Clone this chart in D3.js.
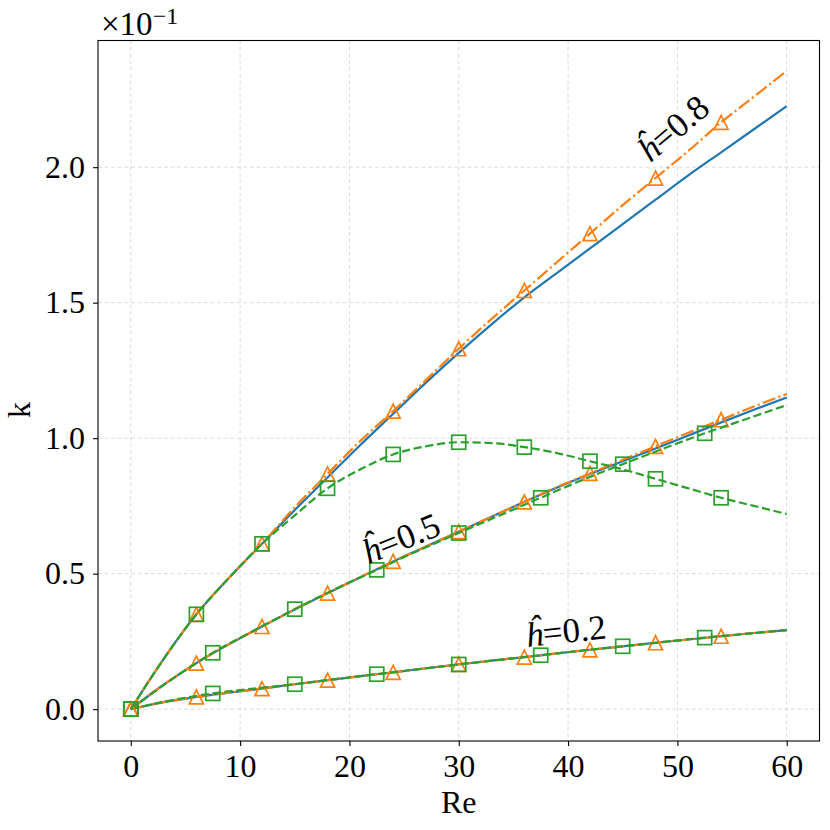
<!DOCTYPE html>
<html>
<head>
<meta charset="utf-8">
<script src="https://cdn.jsdelivr.net/npm/d3@7"></script>
<style>
    body { margin: 0; background: #ffffff; }
    text { font-family: "Liberation Serif", "DejaVu Serif", serif; fill: #000000; }
</style>
</head>
<body>
<svg id="chart"></svg>
<script>
// Re grids
const re3 = [0, 3, 6, 9, 12, 15, 18, 21, 24, 27, 30, 33, 36, 39, 42, 45, 48, 51, 54, 57, 60];
const re375 = [0, 3.75, 7.5, 11.25, 15, 18.75, 22.5, 26.25, 30, 33.75, 37.5, 41.25, 45, 48.75, 52.5, 56.25, 60];

// h = 0.8
const blue08   = [0, 0.185, 0.35, 0.485, 0.61, 0.735, 0.855, 0.975, 1.09, 1.205, 1.315, 1.42, 1.52, 1.61, 1.70, 1.79, 1.88, 1.97, 2.055, 2.14, 2.225];
const orange08 = [0, 0.185, 0.35, 0.485, 0.61, 0.745, 0.868, 0.99, 1.10, 1.215, 1.33, 1.44, 1.545, 1.65, 1.755, 1.86, 1.96, 2.06, 2.165, 2.26, 2.355];
const green08  = [0, 0.185, 0.35, 0.485, 0.61, 0.715, 0.815, 0.885, 0.94, 0.97, 0.985, 0.982, 0.967, 0.945, 0.915, 0.885, 0.85, 0.815, 0.78, 0.75, 0.72];

// h = 0.5
const blue05   = [0, 0.09, 0.17, 0.24, 0.305, 0.368, 0.428, 0.487, 0.545, 0.60, 0.655, 0.71, 0.765, 0.818, 0.868, 0.915, 0.962, 1.01, 1.058, 1.105, 1.15];
const orange05 = [0, 0.09, 0.17, 0.24, 0.305, 0.368, 0.428, 0.487, 0.545, 0.60, 0.655, 0.71, 0.765, 0.82, 0.87, 0.92, 0.97, 1.02, 1.068, 1.117, 1.163];
const green05  = [0, 0.11, 0.208, 0.29, 0.369, 0.444, 0.514, 0.584, 0.65, 0.715, 0.78, 0.845, 0.904, 0.962, 1.018, 1.07, 1.122];

// h = 0.2
const blue02   = [0, 0.026, 0.045, 0.061, 0.076, 0.092, 0.107, 0.122, 0.136, 0.151, 0.165, 0.179, 0.192, 0.206, 0.219, 0.232, 0.245, 0.257, 0.269, 0.281, 0.292];
const orange02 = [0, 0.026, 0.045, 0.061, 0.076, 0.092, 0.107, 0.122, 0.136, 0.151, 0.165, 0.179, 0.192, 0.206, 0.219, 0.232, 0.245, 0.257, 0.269, 0.281, 0.292];
const green02  = [0, 0.033, 0.058, 0.076, 0.092, 0.111, 0.129, 0.147, 0.165, 0.182, 0.199, 0.216, 0.232, 0.248, 0.264, 0.278, 0.292];

const xTicks = [0, 10, 20, 30, 40, 50, 60];
const yTicks = [0.0, 0.5, 1.0, 1.5, 2.0];

const labels = [
    { text: "0.8", re: 50.3, k: 2.11, angle: -40 },
    { text: "0.5", re: 25.1, k: 0.59, angle: -22 },
    { text: "0.2", re: 39.9, k: 0.245, angle: -6 }
];

const W = 830, H = 830;
const plot = { left: 98, right: 819.5, top: 40.5, bottom: 741 };

const svg = d3.select("#chart").attr("width", W).attr("height", H);

const x = d3.scaleLinear().domain([-3, 63]).range([plot.left, plot.right]);
const y = d3.scaleLinear().domain([-0.1175, 2.4675]).range([plot.bottom, plot.top]);

const lw = 2.2;

function zip(res, ks) {
    return res.map((r, i) => ({ re: r, k: ks[i] }));
}

function drawGrid() {
    const g = svg.append("g");
    g.selectAll(".gx").data(xTicks).join("line")
        .attr("x1", d => x(d)).attr("x2", d => x(d))
        .attr("y1", plot.top).attr("y2", plot.bottom)
        .attr("stroke", "#dcdcdc").attr("stroke-width", 1)
        .attr("stroke-dasharray", "4,2.6");
    g.selectAll(".gy").data(yTicks).join("line")
        .attr("y1", d => y(d)).attr("y2", d => y(d))
        .attr("x1", plot.left).attr("x2", plot.right)
        .attr("stroke", "#dcdcdc").attr("stroke-width", 1)
        .attr("stroke-dasharray", "4,2.6");
}

function drawAxes() {
    svg.append("g")
        .attr("transform", "translate(0," + plot.bottom + ")")
        .call(d3.axisBottom(x).tickValues(xTicks).tickSize(5).tickPadding(8)
            .tickFormat(d3.format("d")))
        .call(g => g.select(".domain").remove())
        .call(g => g.selectAll("text").attr("font-size", 32).attr("font-family", "Liberation Serif"))
        .call(g => g.selectAll(".tick line").attr("stroke-width", 1.1));

    svg.append("g")
        .attr("transform", "translate(" + plot.left + ",0)")
        .call(d3.axisLeft(y).tickValues(yTicks).tickSize(5).tickPadding(8)
            .tickFormat(d3.format(".1f")))
        .call(g => g.select(".domain").remove())
        .call(g => g.selectAll("text").attr("font-size", 32).attr("font-family", "Liberation Serif"))
        .call(g => g.selectAll(".tick line").attr("stroke-width", 1.1));

    svg.append("rect")
        .attr("x", plot.left).attr("y", plot.top)
        .attr("width", plot.right - plot.left).attr("height", plot.bottom - plot.top)
        .attr("fill", "none").attr("stroke", "#000").attr("stroke-width", 1.1);

    svg.append("text")
        .attr("x", (plot.left + plot.right) / 2).attr("y", 813)
        .attr("text-anchor", "middle").attr("font-size", 32)
        .text("Re");

    svg.append("text")
        .attr("text-anchor", "middle").attr("font-size", 32)
        .attr("transform", "translate(30,410) rotate(-90)")
        .text("k");

    const off = svg.append("text").attr("x", 101).attr("y", 35).attr("font-size", 33);
    off.append("tspan").text("\u00d710");
    off.append("tspan").attr("font-size", 24).attr("dy", -11).text("\u22121");
}

function plotLine(data, color, dash) {
    const line = d3.line()
        .x(d => x(d.re))
        .y(d => y(d.k))
        .curve(d3.curveMonotoneX);
    svg.append("path")
        .datum(data)
        .attr("d", line)
        .attr("fill", "none")
        .attr("stroke", color)
        .attr("stroke-width", lw)
        .attr("stroke-dasharray", dash);
}

function plotTriangles(data, color) {
    const s = 7;
    svg.append("g").selectAll("path")
        .data(data.filter((d, i) => i % 2 === 0 && i < data.length - 1))
        .join("path")
        .attr("d", d => {
            const cx = x(d.re), cy = y(d.k);
            return "M" + cx + "," + (cy - s) + "L" + (cx - s) + "," + (cy + s) + "L" + (cx + s) + "," + (cy + s) + "Z";
        })
        .attr("fill", "none").attr("stroke", color).attr("stroke-width", 1.7);
}

function plotSquares(data, color) {
    const s = 7;
    svg.append("g").selectAll("rect")
        .data(data.filter((d, i) => i % 2 === 0 && i < data.length - 1))
        .join("rect")
        .attr("x", d => x(d.re) - s).attr("y", d => y(d.k) - s)
        .attr("width", 2 * s).attr("height", 2 * s)
        .attr("fill", "none").attr("stroke", color).attr("stroke-width", 1.7);
}

drawGrid();

const blue = "#1f77b4", orange = "#ff7f0e", green = "#2ca02c";
const dashDot = "13.3,3.3,2.1,3.3";
const dashed = "8.3,3.6";

const groups = [
    { b: zip(re3, blue02), o: zip(re3, orange02), g: zip(re375, green02) },
    { b: zip(re3, blue05), o: zip(re3, orange05), g: zip(re375, green05) },
    { b: zip(re3, blue08), o: zip(re3, orange08), g: zip(re3, green08) }
];

groups.forEach(gr => {
    plotLine(gr.b, blue, null);
    plotLine(gr.o, orange, dashDot);
    plotTriangles(gr.o, orange);
    plotLine(gr.g, green, dashed);
    plotSquares(gr.g, green);
});

labels.forEach(l => {
    const t = svg.append("text")
        .attr("text-anchor", "middle").attr("font-size", 35)
        .attr("transform", "translate(" + x(l.re) + "," + y(l.k) + ") rotate(" + l.angle + ")");
    t.append("tspan").attr("font-style", "italic").text("\u0125");
    t.append("tspan").text("=" + l.text);
});

drawAxes();
</script>
</body>
</html>
